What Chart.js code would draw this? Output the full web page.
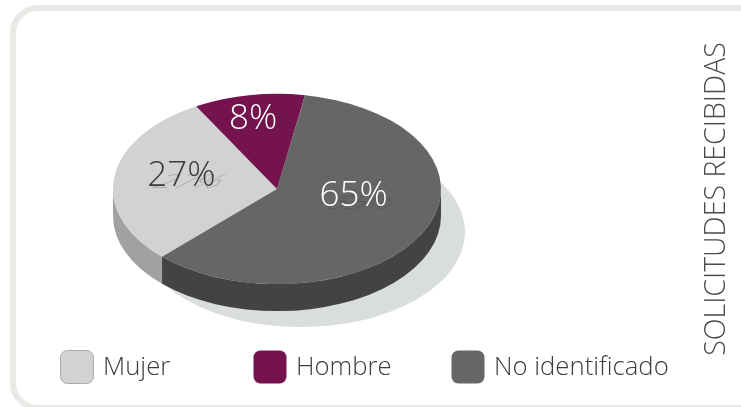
<!DOCTYPE html>
<html><head><meta charset="utf-8">
<style>
html,body{margin:0;padding:0;background:#fff;overflow:hidden;width:741px;height:407px}
#card{position:absolute;left:10px;top:5px;width:790px;height:406px;box-sizing:border-box;border:6px solid #e9e9e5;border-radius:28px;background:#fff}
canvas{position:absolute;left:0;top:0}
</style>
<script src="https://cdn.jsdelivr.net/npm/chart.js@4"></script>
</head><body>
<div id="card"></div>
<canvas id="c" width="741" height="407" style="width:741px;height:407px"></canvas>
<script>
const categories = ['Mujer', 'Hombre', 'No identificado'];
const percentages = [27, 8, 65];
const axisTitle = 'SOLICITUDES RECIBIDAS';

const faceColors = ['#d1d2d4', '#75134f', '#666666'];
const wallColors = ['#9fa1a2', '#5a0f3d', '#434343'];
const labelColors = ['#3a3a3a', '#ffffff', '#ffffff'];
const FONT = '"Open Sans", sans-serif';
const SQUASH = 0.58, DEPTH = 27, START_DEG = 224.5;
const SKEW_A = -11.8, SKEW_B = -18.2; // angular skew of the tilted 3D view, in degrees
const rad = d => d * Math.PI / 180;

const pie3d = {
  id: 'pie3d',
  afterDatasetsUpdate(chart) {
    const start = rad(START_DEG) - Math.PI / 2;
    const warp = t => { const u = t - start; return t + rad(SKEW_A * Math.sin(u) + SKEW_B * (Math.cos(u) - 1)); };
    chart.getDatasetMeta(0).data.forEach(a => {
      const s = warp(a.startAngle), e = warp(a.endAngle);
      a.startAngle = s; a.endAngle = e; a.circumference = e - s;
    });
  },
  beforeDatasetsDraw(chart) {
    const ctx = chart.ctx, arcs = chart.getDatasetMeta(0).data;
    const cx = arcs[0].x, cy = arcs[0].y, R = arcs[0].outerRadius, ry = R * SQUASH;
    // cast shadow
    ctx.save();
    ctx.fillStyle = '#dadddd';
    ctx.beginPath();
    ctx.ellipse(cx + 24, cy + 43, R, ry, 0, 0, Math.PI * 2);
    ctx.fill();
    // side wall, only where an arc faces the viewer
    arcs.forEach((a, i) => {
      for (let k = -1; k <= 1; k++) {
        const s = Math.max(a.startAngle + k * 2 * Math.PI, 0);
        const e = Math.min(a.endAngle + k * 2 * Math.PI, Math.PI);
        if (e <= s) continue;
        ctx.fillStyle = wallColors[i];
        ctx.beginPath();
        ctx.ellipse(cx, cy, R, ry, 0, s, e);
        ctx.ellipse(cx, cy + DEPTH, R, ry, 0, e, s, true);
        ctx.closePath();
        ctx.fill();
      }
    });
    ctx.restore();
    // squash the pie face into an ellipse
    ctx.save();
    ctx.translate(cx, cy);
    ctx.scale(1, SQUASH);
    ctx.translate(-cx, -cy);
  },
  afterDatasetsDraw(chart, args, opts) {
    const ctx = chart.ctx, arcs = chart.getDatasetMeta(0).data;
    ctx.restore();
    const cx = arcs[0].x, cy = arcs[0].y, R = arcs[0].outerRadius;
    // percentage labels
    ctx.textAlign = 'center';
    ctx.textBaseline = 'middle';
    arcs.forEach((a, i) => {
      const m = (a.startAngle + a.endAngle) / 2;
      const x = cx + Math.cos(m) * R * 0.6 + opts.nudge[i][0];
      const y = cy + Math.sin(m) * R * 0.6 * SQUASH + opts.nudge[i][1];
      const t = percentages[i] + '%';
      ctx.font = '300 35px ' + FONT;
      ctx.save();
      ctx.translate(x + 8, y + 7);
      ctx.transform(0.95, 0, -0.7, 0.55, 0, 0);
      ctx.fillStyle = 'rgba(50,50,50,0.25)';
      ctx.fillText(t, 0, 0);
      ctx.restore();
      ctx.fillStyle = labelColors[i];
      ctx.fillText(t, x, y);
    });
    // legend
    ctx.textAlign = 'left';
    ctx.font = '300 25.7px ' + FONT;
    categories.forEach((c, i) => {
      const x = opts.legendX[i];
      ctx.beginPath();
      ctx.roundRect(x + 0.5, 350.5, 33, 33, 7);
      ctx.fillStyle = faceColors[i];
      ctx.fill();
      if (i === 0) { ctx.strokeStyle = '#a9abad'; ctx.lineWidth = 1; ctx.stroke(); }
      ctx.fillStyle = '#3c3c3c';
      ctx.fillText(c, x + 43, 368);
    });
    // rotated title
    ctx.save();
    ctx.translate(717, 199);
    ctx.rotate(-Math.PI / 2);
    ctx.textAlign = 'center';
    ctx.font = '300 28.5px ' + FONT;
    ctx.fillStyle = '#4a4a4a';
    ctx.fillText(axisTitle, 0, 0);
    ctx.restore();
  }
};

new Chart(document.getElementById('c'), {
  type: 'pie',
  data: { labels: categories, datasets: [{ data: percentages, backgroundColor: faceColors, borderWidth: 0 }] },
  options: {
    responsive: false, animation: false, rotation: START_DEG,
    layout: { padding: { left: 113, right: 300, top: 25, bottom: 54 } },
    plugins: {
      legend: { display: false }, tooltip: { enabled: false },
      pie3d: { nudge: [[2, -6], [-7, -14], [-11, -19]], legendX: [60, 253, 451] }
    }
  },
  plugins: [pie3d]
});
</script>
</body></html>
